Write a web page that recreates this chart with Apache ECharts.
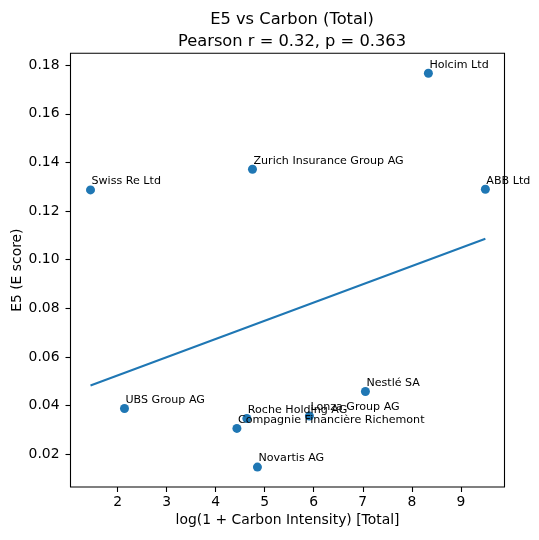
<!DOCTYPE html>
<html>
<head>
<meta charset="utf-8">
<script src="https://cdn.jsdelivr.net/npm/echarts@6/dist/echarts.min.js"></script>
<style>
    html, body { margin: 0; padding: 0; background: #fff; }
    #main { width: 539px; height: 540px; }
</style>
</head>
<body>
<div id="main"></div>
<script>
// values
var companies = ['Swiss Re Ltd', 'Zurich Insurance Group AG', 'Holcim Ltd', 'ABB Ltd', 'UBS Group AG',
    'Roche Holding AG', 'Compagnie Financière Richemont', 'Lonza Group AG', 'Nestlé SA', 'Novartis AG'];
var carbonLog = [1.448, 4.751, 8.338, 9.500, 2.141, 4.636, 4.433, 5.912, 7.054, 4.852];
var e5Score = [0.1287, 0.1372, 0.1767, 0.1290, 0.0388, 0.0347, 0.0306, 0.0357, 0.0458, 0.0147];
var xTicks = [2, 3, 4, 5, 6, 7, 8, 9];
var yTicks = [0.02, 0.04, 0.06, 0.08, 0.10, 0.12, 0.14, 0.16, 0.18];

function aa() {
    var font = 'DejaVu Sans';

    // least squares fit line
    var n = carbonLog.length, mx = 0, my = 0;
    for (var i = 0; i < n; i++) { mx += carbonLog[i]; my += e5Score[i]; }
    mx /= n; my /= n;
    var sxy = 0, sxx = 0;
    for (var i = 0; i < n; i++) {
        sxy += (carbonLog[i] - mx) * (e5Score[i] - my);
        sxx += (carbonLog[i] - mx) * (carbonLog[i] - mx);
    }
    var slope = sxy / sxx, icpt = my - slope * mx;
    var x0 = Math.min.apply(null, carbonLog), x1 = Math.max.apply(null, carbonLog);

    var points = [];
    for (var i = 0; i < n; i++) {
        points.push({ name: companies[i], value: [carbonLog[i], e5Score[i]] });
    }

    var option = {
        animation: false,
        backgroundColor: '#fff',
        title: {
            text: 'E5 vs Carbon (Total)\nPearson r = 0.32, p = 0.363',
            left: 287,
            top: 4,
            textAlign: 'center',
            textStyle: {
                fontFamily: font,
                fontSize: 16.3,
                fontWeight: 'normal',
                color: '#000',
                lineHeight: 22
            }
        },
        grid: {
            left: 70.5,
            right: 34.5,
            top: 53.3,
            bottom: 53,
            outerBoundsMode: 'none',
            show: true,
            borderColor: '#000',
            borderWidth: 1.1
        },
        xAxis: {
            type: 'value',
            min: 1.04,
            max: 9.89,
            name: 'log(1 + Carbon Intensity) [Total]',
            nameLocation: 'middle',
            nameGap: 26,
            nameMoveOverlap: false,
            nameTextStyle: { fontFamily: font, fontSize: 13.9, color: '#000' },
            axisLine: { show: false },
            splitLine: { show: false },
            axisTick: {
                show: true, length: 5, customValues: xTicks,
                lineStyle: { color: '#000', width: 1.1 }
            },
            axisLabel: {
                customValues: xTicks,
                margin: 8,
                fontFamily: font, fontSize: 13.9, color: '#000'
            }
        },
        yAxis: {
            type: 'value',
            min: 0.0065,
            max: 0.1849,
            name: 'E5 (E score)',
            nameLocation: 'middle',
            nameGap: 46,
            nameMoveOverlap: false,
            nameTextStyle: { fontFamily: font, fontSize: 13.9, color: '#000' },
            axisLine: { show: false },
            splitLine: { show: false },
            axisTick: {
                show: true, length: 5, customValues: yTicks,
                lineStyle: { color: '#000', width: 1.1 }
            },
            axisLabel: {
                customValues: yTicks,
                margin: 11,
                fontFamily: font, fontSize: 13.9, color: '#000',
                formatter: function (v) { return v.toFixed(2); }
            }
        },
        series: [{
            type: 'line',
            data: [[x0, icpt + slope * x0], [x1, icpt + slope * x1]],
            showSymbol: false,
            lineStyle: { color: '#1f77b4', width: 2 },
            z: 2
        }, {
            type: 'scatter',
            data: points,
            symbolSize: 9,
            itemStyle: { color: '#1f77b4', opacity: 1 },
            label: {
                show: true,
                position: [5.5, -4],
                align: 'left',
                verticalAlign: 'middle',
                formatter: '{b}',
                fontFamily: font,
                fontSize: 11.1,
                color: '#000'
            },
            z: 3
        }]
    };

    var myChart = echarts.init(document.getElementById('main'));
    myChart.setOption(option);
}

aa();
</script>
</body>
</html>
